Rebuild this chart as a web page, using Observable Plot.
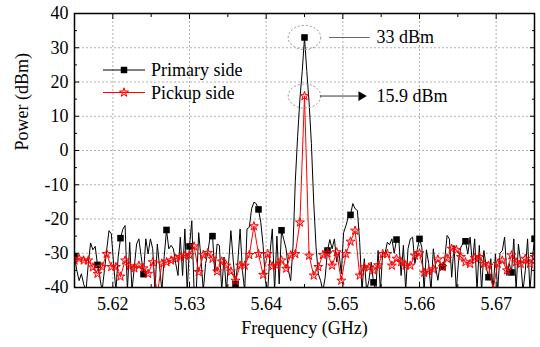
<!DOCTYPE html>
<html><head><meta charset="utf-8">
<script src="https://cdn.jsdelivr.net/npm/d3@7"></script>
<script src="https://cdn.jsdelivr.net/npm/@observablehq/plot@0.6"></script>
<style>
body{margin:0;background:#fff;}
#wrap{position:relative;width:540px;height:347px;font-family:"Liberation Serif","Times New Roman",serif;}
#legend{position:absolute;left:0;top:0;pointer-events:none;}
</style></head><body><div id="wrap"></div>
<script>
// ---- data ----
const freqStart = 5.615;
const primaryStep = 0.0003;   // GHz between primary-side samples
const pickupStep = 0.0006;    // GHz between pickup-side samples
const primaryMarkerEvery = 10;

const primaryPower = [
 -31,-35,-38,-36,-39,-41,-33,-27,-29,-28,
 -33.4,-37,-41,-35,-29,-23.4,-24.3,-33,-41,-31,
 -25.6,-23,-21.9,-41,-26.8,-41,-34,-27.3,-25.8,-31,
 -36.1,-25.8,-30.2,-25.8,-28.7,-41,-27.3,-34,-41,-31,
 -23.2,-28.7,-27.7,-28.7,-33,-36.5,-25.3,-36.5,-22.9,-41,
 -28,-20.5,-41,-40,-24,-31.6,-41,-33,-29.6,-25,
 -25,-35.5,-27.3,-27.7,-41,-31.1,-41,-33,-23.4,-32,
 -39,-32.6,-22.9,-35,-41,-22.9,-22.4,-17,-15.1,-15.5,
 -17.2,-21,-27.7,-38,-41,-30,-22.9,-41,-25,-39,
 -23.3,-26,-28.7,-35,-38,-28,-9,4,15,23,
 33,23,14,2,-15,-28,-36,-38,-41,-37,
 -29.2,-26,-28.7,-25.8,-32.6,-29.7,-36,-24,-22,-19.5,
 -18.8,-15.5,-17,-17.5,-26.8,-41,-31.6,-41,-38,-32.6,
 -38.5,-41,-29.2,-41,-29.7,-30.2,-26.8,-27.5,-25.8,-30,
 -26,-25.8,-36.5,-27.7,-41,-28.7,-25.8,-25.3,-33,-29,
 -25.8,-28.2,-41,-29,-33,-41,-28.7,-34,-37.9,-33,
 -34,-31.6,-24.8,-25.8,-37,-27.7,-41,-32,-28.2,-27,
 -26.5,-30.2,-25.3,-33,-25.8,-41,-27.7,-41,-29.2,-34,
 -37,-31.6,-41,-30.2,-41,-30,-29.2,-25.3,-36.5,-33,
 -35.6,-25.8,-41,-27.3,-32.6,-41,-35,-25.8,-41,-32,
 -25.8
];

const pickupPower = [
 -32.1,-31.6,-32.1,-32.1,-34.1,-36,-34,-30.2,-34,-34,
 -36.8,-32.1,-33.8,-34.4,-33.6,-34.4,-36,-32.6,-42,-33,
 -32.6,-32.1,-31.6,-31.1,-30.7,-30.5,-28,-35.5,-30.5,-29.9,
 -31.6,-35.3,-32.4,-33.6,-35.3,-38,-33.6,-33.6,-30.5,-22.1,
 -30.2,-36.3,-30.2,-33.8,-33.6,-32.1,-34.5,-30.6,-30.2,-21,
 15.9,-30.7,-36.5,-34,-30.5,-30,-33.6,-29.7,-38,-30.2,
 -26.6,-23.4,-36.5,-34.1,-34.1,-35,-33.5,-30.2,-30.2,-33.6,
 -31.6,-32.6,-33.6,-33.6,-30.7,-30,-35.7,-35.3,-34.7,-31.8,
 -34,-31.6,-28.7,-29,-31.1,-32.6,-33.1,-31.4,-31.1,-33.1,
 -33.6,-40.5,-33.1,-32.1,-35,-30.6,-32.6,-33.1,-31.6,-33.1,
 -31.1
];

const xTicks = [5.62, 5.63, 5.64, 5.65, 5.66, 5.67];
const xMinorTicks = [5.615, 5.625, 5.635, 5.645, 5.655, 5.665, 5.675];
const yTicks = [-40, -30, -20, -10, 0, 10, 20, 30, 40];
const yMinorTicks = [-35, -25, -15, -5, 5, 15, 25, 35];
const xDomain = [5.615, 5.675];
const yDomain = [-40, 40];
const seriesNames = ["Primary side", "Pickup side"];
const xTitle = "Frequency (GHz)";
const yTitle = "Power (dBm)";
const peakFreq = 5.645;
const peakValues = [33, 15.9];
const peakLabels = ["33 dBm", "15.9 dBm"];

// ---- tables ----
const primary = primaryPower.map((p, i) => ({f: +(freqStart + i * primaryStep).toFixed(5), p}));
const primaryMarkers = primary.filter((d, i) => i % primaryMarkerEvery === 0);
const pickup = pickupPower.map((p, i) => ({f: +(freqStart + i * pickupStep).toFixed(5), p}));
const peaks = peakValues.map((p, i) => ({f: peakFreq, p, label: peakLabels[i]}));

const ellipse = {
  draw(ctx, size) {
    const r = Math.sqrt(size / Math.PI), rx = r, ry = r * 0.74, k = 0.5523;
    ctx.moveTo(rx, 0);
    ctx.bezierCurveTo(rx, ry * k, rx * k, ry, 0, ry);
    ctx.bezierCurveTo(-rx * k, ry, -rx, ry * k, -rx, 0);
    ctx.bezierCurveTo(-rx, -ry * k, -rx * k, -ry, 0, -ry);
    ctx.bezierCurveTo(rx * k, -ry, rx, -ry * k, rx, 0);
    ctx.closePath();
  }
};

const blank = () => "";
const FS = 18;
const font = {fontSize: FS, fill: "#000"};

const chart = Plot.plot({
  width: 540, height: 347,
  marginLeft: 74, marginRight: 6, marginTop: 13, marginBottom: 60,
  style: {fontFamily: '"Liberation Serif","Times New Roman",serif', fontSize: FS + "px", background: "#fff", color: "#000"},
  x: {domain: xDomain},
  y: {domain: yDomain},
  marks: [
    Plot.gridX(xTicks, {stroke: "#b0b0b0", strokeOpacity: 1, strokeDasharray: "2,2"}),
    Plot.gridY(yTicks.filter(v => v > -40 && v < 40), {stroke: "#b0b0b0", strokeOpacity: 1, strokeDasharray: "2,2"}),
    Plot.line(primary, {x: "f", y: "p", stroke: "#000", strokeWidth: 1, clip: true}),
    Plot.dot(primaryMarkers, {x: "f", y: "p", symbol: "square", r: 3.7, fill: "#000", stroke: "none", clip: true}),
    Plot.line(pickup, {x: "f", y: "p", stroke: "#ff0000", strokeWidth: 1, clip: true}),
    Plot.dot(pickup, {x: "f", y: "p", symbol: "star", r: 2.8, fill: "rgba(255,0,0,0.2)", stroke: "#ff0000", strokeWidth: 1, clip: true}),
    // annotations
    Plot.dot(peaks, {x: "f", y: "p", symbol: ellipse, r: 16.3, fill: "none", stroke: "#9a9a9a", strokeWidth: 1, strokeDasharray: "2,2"}),
    Plot.link([peaks[0]], {x1: d => d.f + 0.0032, x2: d => d.f + 0.0085, y1: "p", y2: "p", stroke: "#666", strokeWidth: 1}),
    Plot.link([peaks[1]], {x1: d => d.f + 0.0020, x2: d => d.f + 0.0070, y1: "p", y2: "p", stroke: "#333", strokeWidth: 1}),
    Plot.dot([peaks[1]], {x: d => d.f + 0.0074, y: "p", symbol: "triangle", rotate: 90, r: 3.6, fill: "#000"}),
    Plot.text(peaks, {x: "f", y: "p", text: "label", dx: 72, textAnchor: "start", ...font}),
    // axes
    Plot.axisX(xTicks, {anchor: "bottom", tickSize: -5, tickPadding: 14.5, tickFormat: d3.format(".2f"), label: null, fontSize: FS}),
    Plot.axisX(xMinorTicks, {anchor: "bottom", tickSize: -3, tickFormat: blank, label: null}),
    Plot.axisX(xTicks, {anchor: "top", tickSize: -5, tickFormat: blank, label: null}),
    Plot.axisX(xMinorTicks, {anchor: "top", tickSize: -3, tickFormat: blank, label: null}),
    Plot.axisY(yTicks, {anchor: "left", tickSize: -5, tickPadding: 11, tickFormat: d => String(d), label: null, fontSize: FS}),
    Plot.axisY(yMinorTicks, {anchor: "left", tickSize: -3, tickFormat: blank, label: null}),
    Plot.axisY(yTicks, {anchor: "right", tickSize: -5, tickFormat: blank, label: null}),
    Plot.axisY(yMinorTicks, {anchor: "right", tickSize: -3, tickFormat: blank, label: null}),
    Plot.frame({stroke: "#000", strokeWidth: 1.5}),
    Plot.text([yTitle], {frameAnchor: "left", dx: -52, rotate: -90, text: d => d, ...font}),
    Plot.text([xTitle], {frameAnchor: "bottom", dy: 46, text: d => d, ...font})
  ]
});

const wrap = document.getElementById("wrap");
wrap.appendChild(chart);

// legend overlay
const leg = d3.select(wrap).append("svg").attr("id", "legend").attr("width", 540).attr("height", 347)
  .style("font-family", '"Liberation Serif","Times New Roman",serif').style("font-size", FS + "px");
const legendStyles = [
  {stroke: "#000", symbol: d3.symbolSquare, size: 42, fill: "#000"},
  {stroke: "#ff0000", symbol: d3.symbolStar, size: 25, fill: "rgba(255,0,0,0.2)"}
];
seriesNames.forEach((name, i) => {
  const y = 70 + i * 22.5, s = legendStyles[i];
  const g = leg.append("g");
  g.append("line").attr("x1", 103).attr("x2", 145).attr("y1", y).attr("y2", y).attr("stroke", s.stroke).attr("stroke-width", 1.2);
  g.append("path").attr("d", d3.symbol(s.symbol, s.size)()).attr("transform", `translate(124,${y})`)
    .attr("fill", s.fill).attr("stroke", i ? s.stroke : "none");
  g.append("text").attr("x", 151).attr("y", y).attr("dy", "0.35em").text(name);
});
</script>
</body></html>
